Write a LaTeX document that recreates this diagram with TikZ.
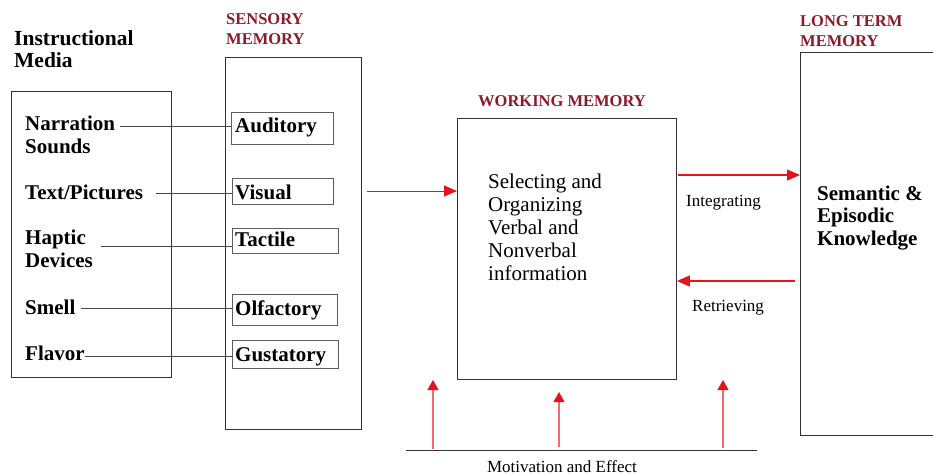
\documentclass[tikz,border=0pt]{standalone}
\usepackage{fontspec}
\setmainfont{Liberation Serif}
\usetikzlibrary{arrows.meta}
\definecolor{titlered}{HTML}{8B1A2B}
\definecolor{flowred}{HTML}{E3141E}
\definecolor{liftred}{HTML}{F06A70}
\definecolor{boxgray}{HTML}{333333}
\begin{document}
\begin{tikzpicture}[x=1pt,y=-1pt,
  title/.style={text=titlered,font=\fontsize{16.5}{20}\selectfont\bfseries,align=left,inner sep=0pt,anchor=base west},
  head/.style={font=\fontsize{21.5}{22}\selectfont\bfseries,align=left,inner sep=0pt,anchor=base west},
  item/.style={font=\fontsize{21}{22.5}\selectfont\bfseries,align=left,inner sep=0pt,anchor=base west},
  body/.style={font=\fontsize{21}{23}\selectfont,align=left,inner sep=0pt,anchor=base west},
  note/.style={font=\fontsize{17}{19}\selectfont,inner sep=0pt,anchor=base west},
  frame/.style={draw=boxgray,line width=0.9pt,inner sep=0pt,anchor=north west},
  sensebox/.style={draw=boxgray!80,line width=0.9pt,inner sep=0pt,anchor=north west},
  link/.style={draw=boxgray!90,line width=0.8pt},
  flow/.style={draw=flowred,line width=1.2pt,-{Triangle[length=13pt,width=11pt]}},
  lift/.style={color=liftred,line width=1.2pt,-{Triangle[length=10pt,width=11pt,fill=flowred,color=flowred]}}]
\useasboundingbox (0,0) rectangle (933,475);

% column titles (multi-line nodes are placed by their last baseline)
\node[head] (medtitle) at (14,67) {Instructional\\Media};
\node[title] (sentitle) at (226,44) {SENSORY\\MEMORY};
\node[title] (wmtitle) at (478,106) {WORKING MEMORY};
\node[title] (ltmtitle) at (800,46) {LONG TERM\\MEMORY};

% main boxes
\node[frame,minimum width=160pt,minimum height=286pt] (media) at (11,91) {};
\node[frame,minimum width=136pt,minimum height=372pt] (sensory) at (225,57) {};
\node[frame,minimum width=219pt,minimum height=261pt] (wm) at (457,118) {};
\node[frame,minimum width=160pt,minimum height=383pt] (ltm) at (800,52) {};

% instructional media
\node[item] (narr) at (25,153) {Narration\\Sounds};
\node[item] (text) at (25,199) {Text/Pictures};
\node[item] (hapt) at (25,267) {Haptic\\Devices};
\node[item] (smell) at (25,314) {Smell};
\node[item] (flavor) at (25,360) {Flavor};

% sensory channels
\node[sensebox,minimum width=102pt,minimum height=32pt] (aud) at (231,112) {};
\node[item] at (235,132) {Auditory};
\node[sensebox,minimum width=101pt,minimum height=26pt] (vis) at (232,178) {};
\node[item] at (235,199) {Visual};
\node[sensebox,minimum width=106pt,minimum height=25pt] (tac) at (232,228) {};
\node[item] at (235,246) {Tactile};
\node[sensebox,minimum width=105pt,minimum height=31pt] (olf) at (232,294) {};
\node[item] at (235,315) {Olfactory};
\node[sensebox,minimum width=106pt,minimum height=28pt] (gus) at (232,340) {};
\node[item] at (235,361) {Gustatory};

% media-to-channel links
\coordinate (narrend) at (120,126);
\coordinate (textend) at (156,193);
\coordinate (haptend) at (101,246);
\coordinate (smellend) at (81,308);
\coordinate (flavend) at (85,356);
\draw[link] (narrend) -- (aud.west |- narrend);
\draw[link] (textend) -- (vis.west |- textend);
\draw[link] (haptend) -- (tac.west |- haptend);
\draw[link] (smellend) -- (olf.west |- smellend);
\draw[link] (flavend) -- (gus.west |- flavend);

% working memory contents
\node[body] (wmtext) at (488,280) {Selecting and\\Organizing\\Verbal and\\Nonverbal\\information};

% long term memory contents
\node[item] (ltmtext) at (817,245) {Semantic \&\\Episodic\\Knowledge};

% flows between stores
\coordinate (senseout) at (367,191);
\draw[flow,line width=0.9pt] (senseout) -- (wm.west |- senseout);
\coordinate (intstart) at (678,175);
\draw[flow] (intstart) -- (ltm.west |- intstart);
\node[note] (intlabel) at (686,206) {Integrating};
\coordinate (retstart) at (795,281);
\draw[flow] (retstart) -- (wm.east |- retstart);
\node[note] (retlabel) at (692,311) {Retrieving};

% motivation baseline and its influences
\coordinate (baseL) at (406,450);
\coordinate (baseR) at (757,450);
\draw[boxgray,line width=0.9pt] (baseL) -- (baseR);
\node[note,anchor=base] (motiv) at (562,472) {Motivation and Effect};
\coordinate (upA) at (433,449);
\coordinate (upAtip) at (433,380);
\coordinate (upB) at (559,447);
\coordinate (upBtip) at (559,392);
\coordinate (upC) at (723,448);
\coordinate (upCtip) at (723,380);
\draw[lift] (upA) -- (upAtip);
\draw[lift] (upB) -- (upBtip);
\draw[lift] (upC) -- (upCtip);
\end{tikzpicture}
\end{document}
